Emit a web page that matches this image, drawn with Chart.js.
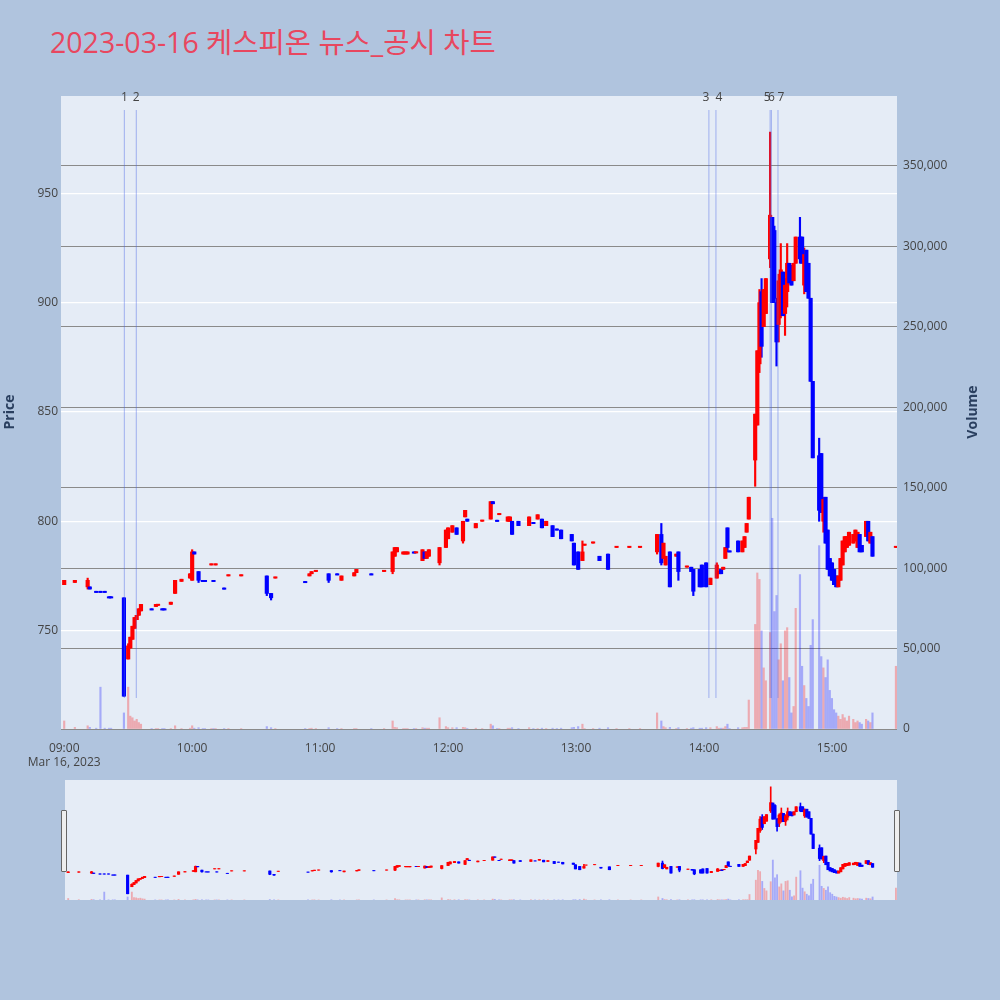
<!DOCTYPE html>
<html><head><meta charset="utf-8">
<script src="https://cdn.jsdelivr.net/npm/chart.js@4"></script>
<style>
body{margin:0;background:#b0c4de;width:1000px;height:1000px;overflow:hidden;font-family:"Open Sans",sans-serif}
#title{position:absolute;left:50px;top:20px;font-size:28.5px;color:#e8475f;font-family:"Open Sans","Noto Sans CJK KR",sans-serif}
#c1{position:absolute;left:0;top:0}
#c2{position:absolute;left:0;top:780px}
.h{position:absolute;top:810px;width:4px;height:60px;background:#eee;border:1px solid #666;border-radius:1px}
</style></head><body>
<div id="title">2023-03-16 케스피온 뉴스_공시 차트</div>
<canvas id="c1" width="1000" height="770"></canvas>
<canvas id="c2" width="1000" height="120"></canvas>
<div class="h" style="left:61px"></div><div class="h" style="left:894px"></div>
<script>
const minutes=[0,5,11,12,15,17,19,21,22,28,30,31,32,33,34,35,36,41,43,44,46,47,50,52,55,59,60,61,63,65,66,69,70,71,75,77,83,95,97,99,113,115,116,118,124,128,130,136,137,144,150,154,155,156,159,160,161,164,165,168,169,170,171,176,179,180,182,184,187,188,189,193,196,200,201,203,204,208,209,210,213,218,220,222,224,226,229,231,233,238,239,241,243,244,248,251,255,259,265,270,278,280,281,282,284,287,288,292,294,295,298,299,301,303,306,307,308,309,310,311,312,316,318,319,320,321,324,325,326,327,328,329,331,332,333,334,335,336,337,338,339,340,341,342,343,345,346,347,348,349,350,351,354,355,356,357,358,359,360,361,362,363,364,365,366,367,368,370,371,372,373,374,376,377,378,379,390];
const opens=[771,772,770,770,768,768,768,765.5,765.5,765,737,742,746,751,755,757,759,760,761,761.5,760,760,762,767,772.5,774,773,786,777,773,773,780,773,780,769.5,775,775,775,767,774,772.5,775,776,777,776,776,773,775,776.5,776,777,777,784,786,785,785,785,786,785.5,782,786,783,784,781,788,792,795,797,791,802,801,797,800,801,809,800.5,803,800,800,800,800,798,799.5,801,801,798,798,796.5,796,794,790,786,782,789,790,784,785,788,788,788,786,794,783,780,786,784,786,779,779,778,778,780,781,771,774,776,778,778,783,797,786.5,791,786,788,795,801,828,844,872,905,889,895,920,939,933,900,890,900,914,895,905,918,917,910,918,930,930,908,924,918,902,864,830,831,800,811,796,783,781,778,775,770,773,780,786,788,789,790,791,788,794,789,793,800,790,793,788];
const highs=[773,773,774,770,768,768,768,765.5,765.5,765,744,747,752,756,757,760,762,760,762,762,760,760,763,773,773.5,776,787,786,777,773,773,780.5,773,780.5,769.5,775.5,775.5,775,767,774.5,772.5,776,777,777.5,776,776,775,776.5,778,776,777.5,786,788,788,786,786,786,786,786,787,786,786,787,788,796,797,798,797,800,805,801,799,800.5,809,809,800.5,803.5,802,802,800,800,802,799.5,803,801,800,798,796.5,796,794,790,786,791,789.5,790.5,784,785,788.5,788.5,788.5,794,799,790,784,786,785,786,779.5,779,778,778,780,781,774,781,777,778,779,788,797,786.5,791,791,793,799,811,849,878,906,911,906,911,978,939,935,902,913,927,914,911,927,918,917,918,930,939,930,925,924,918,902,864,838,831,811,811,796,783,781,778,775,775,783,791,793,793,795,794,796,795,794,789,800,800,795,793,788.5];
const lows=[771,772,769,769,767.5,767.5,767.5,765,765,720,737,742,746,751,755,757,759,759.5,761,761.5,759.5,759.5,762,767,772.5,774,773,785,772,772.5,772.5,780,772.5,780,769,775,775,766,764,774,772,775,776,777,772,775.5,773,775,776.5,775.5,777,776,784,786,785,785,785,785.5,785.5,782,783,783,784,780,788,792,795,794,790,802,800,797,800,801,808,800,803,800,800,794,798,798,799,801,797,798,793,796,792,791,780,778,782,789,790,782,778,788,788,788,785,780,783,780,770,784,773,779,777,766,770,770,770,771,774,776,776,778,783,786,786,786,786,788,795,801,816,844,868,875,889,895,916,900,900,871,882,893,894,885,898,909,908,910,918,918,918,904,905,902,864,829,800,804,795,790,778,775,773,771,770,770,773,780,786,788,789,790,791,788,786,786,793,791,790,784,788];
const closes=[773,773,773,769,767.5,767.5,767.5,765,765,720,743,747,752,756,757,760,762,759.5,762,762,759.5,759.5,763,773,773.5,776,786,785,773,772.5,772.5,780.5,772.5,780.5,769,775.5,775.5,767,765,774.5,772,776,777,777.5,773,775.5,775,776.5,778,775.5,777.5,786,788,788,786,786,786,785.5,786,787,783,786,787,788,796,797,798,794,800,805,800,799,800.5,809,808,800,803.5,802,802,794,798,802,799,803,797,800,793,796,792,791,780,778,786,789.5,790.5,782,778,788.5,788.5,788.5,794,781,790,784,770,785,777,779.5,777,768,770,770,770,774,780,777,776,779,788,788,786,786,791,793,799,811,849,878,900,880,906,911,940,900,902,882,910,915,894,908,918,909,908,918,930,920,918,922,905,902,864,829,805,804,810,790,778,775,773,771,770,775,783,791,793,793,795,794,796,795,786,786,800,791,795,784,788.5];
const volumes=[5000,1000,2000,1000,500,26000,500,500,500,10000,26000,8000,7000,5000,6000,4000,3000,300,300,300,300,300,300,2000,300,500,2000,500,800,300,300,300,300,300,300,300,300,1500,800,300,300,300,500,300,800,300,300,300,300,300,300,5000,1000,800,300,300,300,300,300,800,500,500,500,7000,1500,800,800,800,1000,800,300,500,300,3000,2000,300,300,500,500,800,300,800,300,300,500,300,500,300,500,800,1000,1500,3000,300,300,500,800,300,300,300,10000,5000,1500,800,1000,300,800,300,500,800,500,500,800,800,1500,500,500,500,1500,3000,300,800,800,1000,1000,18000,65000,97000,93000,61000,38000,30000,60000,131000,73000,83000,43000,53000,30000,61000,63000,32000,10000,14000,75000,96000,39000,27000,19000,14000,52000,68000,114000,45000,38000,32000,43000,24000,19000,12000,10000,8000,6000,9000,7000,5000,8000,6000,4000,5000,4000,3000,6000,5000,4000,10000,39000];
const priceTicks=[750,800,850,900,950];
const volumeTicks=[0,50000,100000,150000,200000,250000,300000,350000];
const timeLabels={0:'09:00',60:'10:00',120:'11:00',180:'12:00',240:'13:00',300:'14:00',360:'15:00'};
const eventMinutes=[28.2,33.8,302.3,305.6,331,331.6,334.7];
const eventLabels=['1','2','3','4','5','6','7'];

const up=minutes.map((m,i)=>closes[i]>=opens[i]);
const col=up.map(u=>u?'#ff0000':'#0000ff');
const vcol=up.map(u=>u?'rgba(255,0,0,0.28)':'rgba(0,0,255,0.28)');
function body(i){let a=opens[i],b=closes[i];if(Math.abs(a-b)<0.6){b=a+(up[i]?0.6:-0.6);}return [a,b];}
function datasets(mini){
 return [
  {type:'bar',data:minutes.map((m,i)=>({x:m,y:[0,volumes[i]]})),backgroundColor:vcol,barThickness:mini?1.2:1.5,yAxisID:'y1',grouped:false,order:3},
  {type:'bar',data:minutes.map((m,i)=>({x:m,y:[lows[i],highs[i]]})),backgroundColor:col,barThickness:mini?1:1.5,yAxisID:'y',grouped:false,order:2},
  {type:'bar',data:minutes.map((m,i)=>({x:m,y:body(i)})),backgroundColor:col,barThickness:mini?2.5:3.5,yAxisID:'y',grouped:false,order:1}
 ];
}
const bgPlugin={id:'bg',beforeDraw(c){const a=c.chartArea,x=c.ctx;x.save();x.fillStyle='#e5ecf6';x.fillRect(a.left,a.top,a.right-a.left,a.bottom-a.top);x.restore();}};
const evPlugin={id:'ev',afterDatasetsDraw(c){const x=c.ctx,sx=c.scales.x,sy=c.scales.y;x.save();
 eventMinutes.forEach((m,i)=>{const px=sx.getPixelForValue(m);x.strokeStyle='rgba(70,100,230,0.45)';x.lineWidth=1;x.beginPath();x.moveTo(px,110);x.lineTo(px,698);x.stroke();
  x.fillStyle='#444';x.font='12px "Open Sans"';x.textAlign='center';x.fillText(eventLabels[i],px+(i==2||i==4?-3:i==3||i==6?3:0),101);});
 x.textAlign='right';x.textBaseline='middle';x.fillStyle='#444';x.font='12px "Open Sans"';
 priceTicks.forEach(v=>x.fillText(String(v),58,sy.getPixelForValue(v)));
 x.font='bold 14px "Open Sans"';x.fillStyle='#2a3f5f';x.textAlign='center';
 x.save();x.translate(10,412);x.rotate(-Math.PI/2);x.fillText('Price',0,0);x.restore();
 x.save();x.translate(973,412);x.rotate(-Math.PI/2);x.fillText('Volume',0,0);x.restore();
 x.restore();}};
const cfg={type:'bar',data:{datasets:datasets(false)},plugins:[bgPlugin,evPlugin],
 options:{responsive:false,animation:false,layout:{padding:{top:96,left:0,right:0,bottom:0}},
  plugins:{legend:{display:false},tooltip:{enabled:false}},
  scales:{
   x:{type:'linear',offset:false,min:-1.5,max:390.5,grid:{display:false},border:{display:false},
      afterBuildTicks(s){s.ticks=Object.keys(timeLabels).map(v=>({value:+v}));},
      ticks:{autoSkip:false,maxRotation:0,color:'#444',font:{size:12,family:'Open Sans'},padding:4,
        callback:v=>v===0?['09:00','Mar 16, 2023']:timeLabels[v]},
      afterFit(s){s.height=41;}},
   y:{position:'left',min:705,max:994.5,grid:{color:'#ffffff',lineWidth:1.2,drawTicks:false},border:{display:false},
      afterBuildTicks(s){s.ticks=priceTicks.map(v=>({value:v}));},
      ticks:{display:false},
      afterFit(s){s.width=61;}},
   y1:{position:'right',min:0,max:393500,grid:{color:'#8a8a8a',lineWidth:1,drawTicks:false},border:{display:false},
      afterBuildTicks(s){s.ticks=volumeTicks.map(v=>({value:v}));},
      ticks:{color:'#444',font:{size:12,family:'Open Sans'},padding:6,callback:v=>v.toLocaleString('en-US')},
      afterFit(s){s.width=103;}}
  }}};
new Chart(document.getElementById('c1'),cfg);
const cfg2={type:'bar',data:{datasets:datasets(true)},plugins:[bgPlugin],
 options:{responsive:false,animation:false,layout:{padding:0},plugins:{legend:{display:false},tooltip:{enabled:false}},
  scales:{
   x:{type:'linear',offset:false,min:-1.5,max:390.5,display:true,grid:{display:false},border:{display:false},ticks:{display:false},afterFit(s){s.height=0;}},
   y:{position:'left',min:705,max:994.5,display:true,grid:{display:false},border:{display:false},ticks:{display:false},afterFit(s){s.width=65;}},
   y1:{position:'right',min:0,max:393500,display:true,grid:{display:false},border:{display:false},ticks:{display:false},afterFit(s){s.width=103;}}
  }}};
new Chart(document.getElementById('c2'),cfg2);
</script></body></html>
